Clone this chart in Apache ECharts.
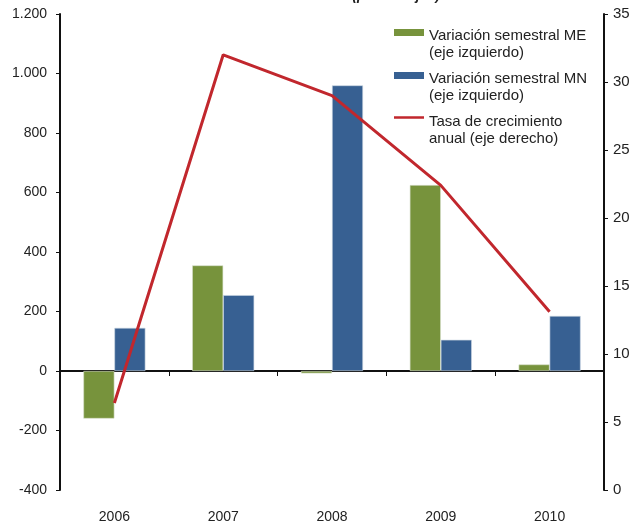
<!DOCTYPE html>
<html>
<head>
<meta charset="utf-8">
<script src="https://cdn.jsdelivr.net/npm/echarts@6/dist/echarts.min.js"></script>
<style>
html,body{margin:0;padding:0;background:#fff;}
#chart{width:634px;height:522px;}
</style>
</head>
<body>
<div id="chart"></div>
<script>
const categories = ['2006', '2007', '2008', '2009', '2010'];
const variacionME = [-160, 355, -8, 625, 22];
const variacionMN = [145, 255, 960, 105, 185];
const tasaCrecimiento = [6.4, 32.0, 29.0, 22.4, 13.1];
const leftTicks = { min: -400, max: 1200, interval: 200 };
const rightTicks = { min: 0, max: 35, interval: 5 };

const nameME = 'Variación semestral ME\n(eje izquierdo)';
const nameMN = 'Variación semestral MN\n(eje izquierdo)';
const nameTasa = 'Tasa de crecimiento\nanual (eje derecho)';

const font = 'Arial, "Liberation Sans", sans-serif';
const chart = echarts.init(document.getElementById('chart'), null, { renderer: 'canvas' });

function thousands(v) {
  const s = String(Math.abs(v)).replace(/\B(?=(\d{3})+(?!\d))/g, '.');
  return (v < 0 ? '-' : '') + s;
}

const noBorder = { borderWidth: 0 };

chart.setOption({
  animation: false,
  backgroundColor: '#fff',
  title: {
    text: 'Variación en millones de soles (porcentajes)',
    left: 140,
    top: -16,
    textStyle: { fontFamily: font, fontSize: 14, fontWeight: 'bold', fontStyle: 'italic', color: '#222' }
  },
  grid: { left: 60, right: 30, top: 14, bottom: 32, containLabel: false, outerBoundsMode: 'none' },
  legend: {
    orient: 'vertical',
    left: 389,
    top: 22,
    itemWidth: 30,
    itemHeight: 34,
    itemGap: 9,
    itemStyle: { borderWidth: 0 },
    textStyle: { fontFamily: font, fontSize: 15, lineHeight: 17, color: '#222' },
    data: [
      { name: nameME, icon: 'path://M0,4 L30,4 L30,11 L0,11 Z M0,34 L30,34 Z', itemStyle: noBorder },
      { name: nameMN, icon: 'path://M0,4 L30,4 L30,11 L0,11 Z M0,34 L30,34 Z', itemStyle: noBorder },
      { name: nameTasa, icon: 'path://M0,6.5 L30,6.5 L30,9 L0,9 Z M0,34 L30,34 Z', itemStyle: noBorder }
    ]
  },
  xAxis: [
    {
      type: 'category',
      data: categories,
      axisLine: { onZero: true, onZeroAxisIndex: 0, lineStyle: { color: '#111', width: 2 } },
      axisTick: { show: true, length: 5, lineStyle: { color: '#111', width: 1 } },
      axisLabel: { show: false },
      splitLine: { show: false }
    },
    {
      type: 'category',
      data: categories,
      position: 'bottom',
      axisLine: { show: false },
      axisTick: { show: false },
      axisLabel: { show: true, margin: 20, fontFamily: font, fontSize: 14, color: '#222' },
      splitLine: { show: false }
    }
  ],
  yAxis: [
    {
      type: 'value',
      min: leftTicks.min,
      max: leftTicks.max,
      interval: leftTicks.interval,
      axisLine: { show: true, lineStyle: { color: '#111', width: 2 } },
      axisTick: { show: true, length: 4, lineStyle: { color: '#111', width: 1 } },
      axisLabel: { margin: 13, fontFamily: font, fontSize: 14, color: '#222', formatter: thousands },
      splitLine: { show: false }
    },
    {
      type: 'value',
      position: 'right',
      min: rightTicks.min,
      max: rightTicks.max,
      interval: rightTicks.interval,
      axisLine: { show: true, lineStyle: { color: '#111', width: 2 } },
      axisTick: { show: true, length: 4, lineStyle: { color: '#111', width: 1 } },
      axisLabel: { margin: 9, fontFamily: font, fontSize: 15, color: '#222' },
      splitLine: { show: false }
    }
  ],
  series: [
    {
      name: nameME,
      type: 'bar',
      xAxisIndex: 0,
      yAxisIndex: 0,
      data: variacionME,
      barGap: '0%',
      barCategoryGap: '43%',
      itemStyle: { color: '#77933C', borderColor: '#d9dfcc', borderWidth: 0.6 }
    },
    {
      name: nameMN,
      type: 'bar',
      xAxisIndex: 0,
      yAxisIndex: 0,
      data: variacionMN,
      barGap: '0%',
      barCategoryGap: '43%',
      itemStyle: { color: '#376092', borderColor: '#cdd6e3', borderWidth: 0.6 }
    },
    {
      name: nameTasa,
      type: 'line',
      xAxisIndex: 0,
      yAxisIndex: 1,
      data: tasaCrecimiento,
      symbol: 'none',
      z: 5,
      itemStyle: { color: '#C1272D' },
      lineStyle: { color: '#C1272D', width: 3 }
    }
  ]
});
</script>
</body>
</html>
